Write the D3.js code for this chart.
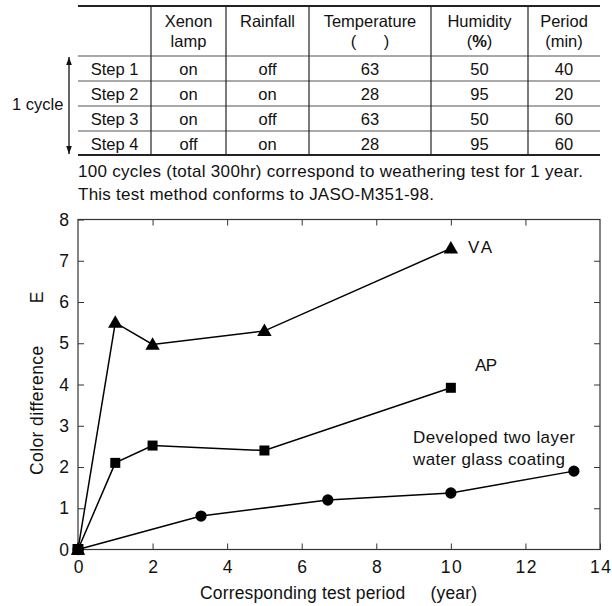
<!DOCTYPE html>
<html><head><meta charset="utf-8">
<script src="https://cdn.jsdelivr.net/npm/d3@7"></script>
<style>body{margin:0;background:#fff}svg{display:block}text{font-family:"Liberation Sans",Arial,sans-serif;fill:#111;white-space:pre}</style>
</head><body>
<script>
// ---- table data ----
const tableHeaders = [["", ""], ["Xenon", "lamp"], ["Rainfall", ""], ["Temperature", "(      )"], ["Humidity", "(%)"], ["Period", "(min)"]];
const stepNames = ["Step 1", "Step 2", "Step 3", "Step 4"];
const xenonLamp = ["on", "on", "on", "off"];
const rainfall = ["off", "on", "off", "on"];
const temperature = [63, 28, 63, 28];
const humidity = [50, 95, 50, 95];
const periodMin = [40, 20, 60, 60];
const noteLines = ["100 cycles (total 300hr) correspond to weathering test for 1 year.",
                   "This test method conforms to JASO-M351-98."];
// ---- chart data ----
const vaX = [0, 1, 2, 5, 10];
const vaY = [0, 5.5, 4.97, 5.3, 7.3];
const apX = [0, 1, 2, 5, 10];
const apY = [0, 2.1, 2.52, 2.4, 3.92];
const coatX = [0, 3.3, 6.7, 10, 13.3];
const coatY = [0, 0.81, 1.2, 1.37, 1.9];
const xTicks = [0, 2, 4, 6, 8, 10, 12, 14];
const yTicks = [0, 1, 2, 3, 4, 5, 6, 7, 8];

const W = 612, H = 606;
const svg = d3.select("body").append("svg").attr("width", W).attr("height", H);

// ---- table ----
const colEdges = [78, 151, 226, 309, 431, 528, 600];
const rowEdges = [6, 56, 81, 106, 131, 155];
const TF = 16.5;
const tg = svg.append("g");
tg.append("line").attr("x1", 78).attr("x2", 600).attr("y1", rowEdges[0]).attr("y2", rowEdges[0]).attr("stroke", "#222").attr("stroke-width", 2);
tg.append("line").attr("x1", 78).attr("x2", 600).attr("y1", rowEdges[5]).attr("y2", rowEdges[5]).attr("stroke", "#222").attr("stroke-width", 2);
[1,2,3,4].forEach(i => tg.append("line").attr("x1", 78).attr("x2", 600).attr("y1", rowEdges[i]).attr("y2", rowEdges[i]).attr("stroke", "#555").attr("stroke-width", 1.2));
colEdges.slice(1, 6).forEach(x => tg.append("line").attr("x1", x).attr("x2", x).attr("y1", rowEdges[0]).attr("y2", rowEdges[5]).attr("stroke", "#222").attr("stroke-width", 1.2));
const colCenter = i => (colEdges[i] + colEdges[i+1]) / 2;
tableHeaders.forEach((h, i) => {
  h.forEach((t, j) => {
    if (!t) return;
    const tx = tg.append("text").attr("x", colCenter(i)).attr("y", 26.5 + j * 20).attr("text-anchor", "middle").attr("font-size", TF);
    if (t === "(%)") { tx.append("tspan").text("("); tx.append("tspan").attr("font-weight", "bold").text("%"); tx.append("tspan").text(")"); }
    else tx.text(t);
  });
});
const rows = stepNames.map((s, i) => [s, xenonLamp[i], rainfall[i], temperature[i], humidity[i], periodMin[i]]);
rows.forEach((r, ri) => {
  r.forEach((v, ci) => {
    tg.append("text").attr("x", colCenter(ci)).attr("y", (rowEdges[ri+1] + rowEdges[ri+2]) / 2 + 6.5)
      .attr("text-anchor", "middle").attr("font-size", TF).text(v);
  });
});
tg.append("text").attr("x", 12).attr("y", 110).attr("font-size", TF).text("1 cycle");
svg.append("defs").append("marker").attr("id", "ah").attr("viewBox", "0 0 10 10").attr("refX", 10).attr("refY", 5)
  .attr("markerWidth", 8).attr("markerHeight", 8).attr("markerUnits", "userSpaceOnUse").attr("orient", "auto-start-reverse")
  .append("path").attr("d", "M0,1.5 L10,5 L0,8.5 Z").attr("fill", "#111");
tg.append("line").attr("x1", 69).attr("x2", 69).attr("y1", 57).attr("y2", 154).attr("stroke", "#111").attr("stroke-width", 1.3)
  .attr("marker-start", "url(#ah)").attr("marker-end", "url(#ah)");
const noteLen = [505, 356];
noteLines.forEach((t, i) => svg.append("text").attr("x", 78).attr("y", 177 + i * 22.5).attr("font-size", 17)
  .attr("textLength", noteLen[i]).attr("lengthAdjust", "spacing").text(t));

// ---- chart ----
const x = d3.scaleLinear().domain([0, 14]).range([78, 600]);
const y = d3.scaleLinear().domain([0, 8]).range([549.5, 219.5]);
const g = svg.append("g");
g.append("rect").attr("x", 78).attr("y", 219.5).attr("width", 522).attr("height", 330).attr("fill", "none").attr("stroke", "#333").attr("stroke-width", 1.2);
const tk = 6;
const styleTickText = a => a.selectAll("text").attr("font-size", 17.5).attr("fill", "#111")
  .attr("font-family", "Liberation Sans, Arial, sans-serif").attr("letter-spacing", 1.5);
g.append("g").attr("transform", "translate(0,549.5)").call(d3.axisBottom(x).tickValues(xTicks).tickSize(-tk).tickPadding(11.5).tickFormat(d3.format("d")))
  .call(a => { a.select(".domain").remove(); a.selectAll("line").attr("stroke", "#333"); styleTickText(a); a.selectAll("text").attr("dx", 0.75); });
g.append("g").attr("transform", "translate(0,219.5)").call(d3.axisTop(x).tickValues(xTicks.slice(1, -1)).tickSize(-tk).tickFormat(""))
  .call(a => { a.select(".domain").remove(); a.selectAll("line").attr("stroke", "#333"); });
g.append("g").attr("transform", "translate(78,0)").call(d3.axisLeft(y).tickValues(yTicks).tickSize(-tk).tickPadding(9).tickFormat(d3.format("d")))
  .call(a => { a.select(".domain").remove(); a.selectAll("line").attr("stroke", "#333"); styleTickText(a); a.selectAll("text").attr("letter-spacing", 0); });
g.append("g").attr("transform", "translate(600,0)").call(d3.axisRight(y).tickValues(yTicks.slice(1, -1)).tickSize(-tk).tickFormat(""))
  .call(a => { a.select(".domain").remove(); a.selectAll("line").attr("stroke", "#333"); });

const line = d3.line().x(d => x(d[0])).y(d => y(d[1]));
const series = [
  { xs: coatX, ys: coatY, sym: d3.symbolCircle, size: 100 },
  { xs: apX, ys: apY, sym: d3.symbolSquare, size: 100 },
  { xs: vaX, ys: vaY, sym: d3.symbolTriangle, size: 90 }
];
series.forEach(s => {
  const pts = s.xs.map((v, i) => [v, s.ys[i]]);
  g.append("path").attr("d", line(pts)).attr("fill", "none").attr("stroke", "#000").attr("stroke-width", 1.5);
  g.selectAll(null).data(pts).enter().append("path")
    .attr("transform", d => `translate(${x(d[0])},${y(d[1]) + (s.sym === d3.symbolTriangle ? 1 : 0)})`)
    .attr("d", d3.symbol().type(s.sym).size(s.size)).attr("fill", "#000");
});
g.append("path").attr("transform", `translate(${x(0)},${y(0)})`).attr("d", d3.symbol().type(d3.symbolSquare).size(121)).attr("fill", "#000");

g.append("text").attr("x", 468).attr("y", 253).attr("font-size", 17).attr("textLength", 24).text("VA");
g.append("text").attr("x", 475).attr("y", 371).attr("font-size", 17).attr("textLength", 22).text("AP");
g.append("text").attr("x", 413).attr("y", 443).attr("font-size", 17).attr("textLength", 162).attr("lengthAdjust", "spacing").text("Developed two layer");
g.append("text").attr("x", 413).attr("y", 465).attr("font-size", 17).attr("textLength", 152).attr("lengthAdjust", "spacing").text("water glass coating");

svg.append("text").attr("transform", "translate(43,475) rotate(-90)").attr("font-size", 17.5).attr("text-anchor", "start")
  .attr("letter-spacing", 0.4).text("Color difference        E");
svg.append("text").attr("x", 200).attr("y", 599).attr("font-size", 17.5).attr("textLength", 277).attr("lengthAdjust", "spacing")
  .text("Corresponding test period     (year)");
</script>
</body></html>
